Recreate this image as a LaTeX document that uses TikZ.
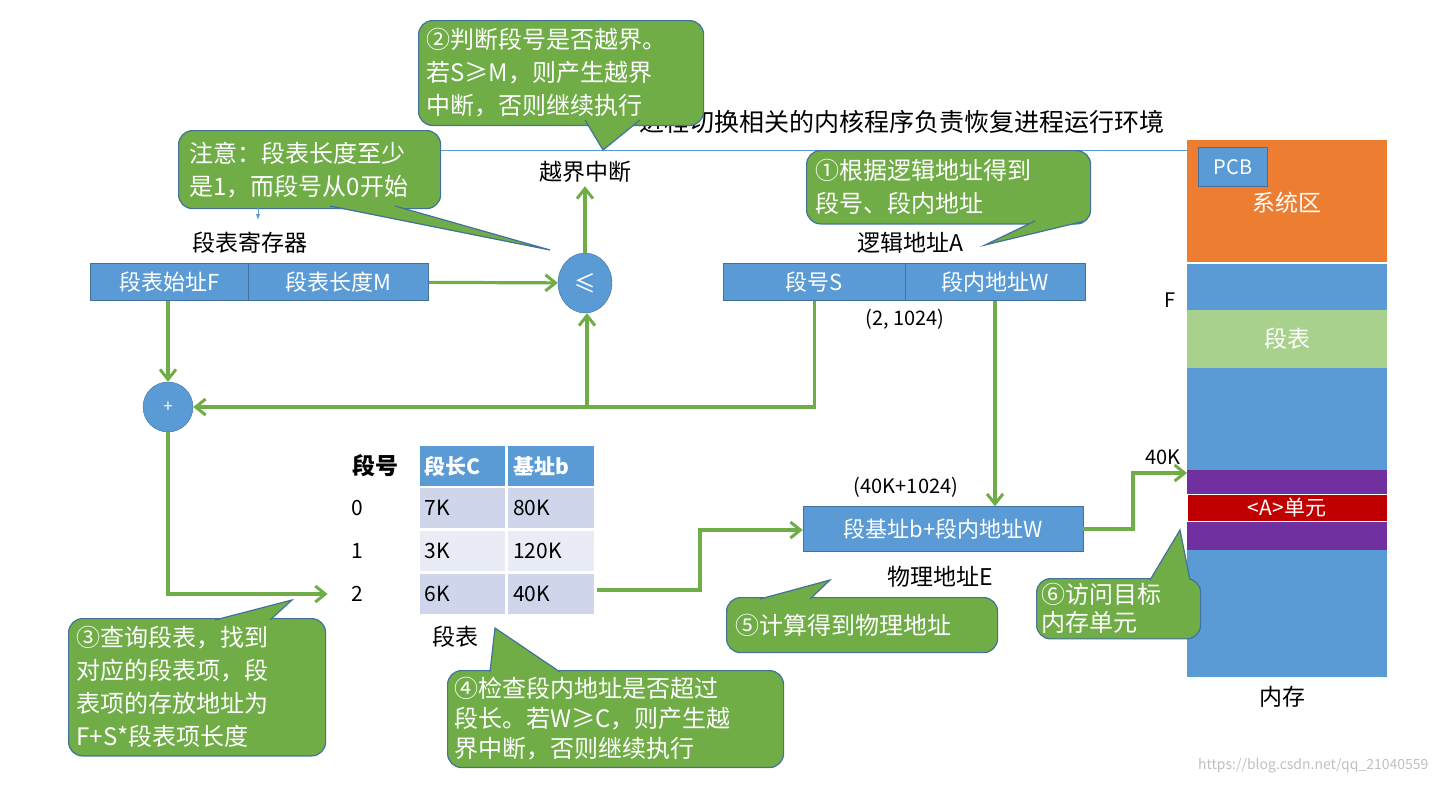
\documentclass[tikz,border=0pt]{standalone}
\usepackage{fontspec}
\setmainfont{Noto Sans CJK SC}
\usetikzlibrary{arrows.meta,calc,positioning}
\definecolor{boxblue}{HTML}{5B9BD5}
\definecolor{boxedge}{HTML}{41719C}
\definecolor{callgreen}{HTML}{70AD47}
\definecolor{arrgreen}{HTML}{70AD47}
\definecolor{sysorange}{HTML}{ED7D31}
\definecolor{tablegreen}{HTML}{A9D18E}
\definecolor{mempurple}{HTML}{7030A0}
\definecolor{memred}{HTML}{C00000}
\definecolor{cellA}{HTML}{CFD5EA}
\definecolor{cellB}{HTML}{E9EBF5}
\tikzset{
  reg/.style = {draw=boxedge, fill=boxblue, text=white, minimum height=37pt,
                inner sep=0pt, font=\fontsize{22}{26}\selectfont},
  op/.style = {draw=boxedge, fill=boxblue, text=white, circle, inner sep=0pt,
               font=\fontsize{17}{20}\selectfont},
  lab/.style = {font=\fontsize{23}{27}\selectfont, text=black},
  flow/.style = {draw=arrgreen, line width=3.2pt, -{Straight Barb[length=10pt,width=16pt,line width=3pt]}},
  note/.style = {draw=boxedge, fill=callgreen, text=white, rounded corners=14pt,
                 line width=1.2pt, align=left, anchor=north west, inner sep=11pt,
                 font=\fontsize{24}{33}\selectfont},
  cell/.style = {minimum width=87pt, minimum height=42pt, inner sep=0pt, draw=white,
                 line width=1.5pt, font=\fontsize{21}{24}\selectfont, anchor=west,
                 text width=75pt, align=left},
}
% callout pointer: base points and tip
\newcommand{\calltip}[3]{%
  \fill[callgreen] #1 -- #3 -- #2 -- cycle;
  \draw[boxedge, line width=1.2pt] #1 -- #3 -- #2;}
\begin{document}
\begin{tikzpicture}[x=1pt, y=-1pt]
  \useasboundingbox (0,0) rectangle (1439,785);

  % background text and PCB line
  \node[lab, font=\fontsize{25}{28}\selectfont, anchor=east] (restore) at (1168,122) {进程切换相关的内核程序负责恢复进程运行环境};
  \draw[boxblue, line width=1pt] (440,150) -- (1200,150);

  % memory
  \fill[boxblue] (1187,263) rectangle (1387,677);
  \fill[sysorange] (1187,140) rectangle (1387,263);
  \draw[white, line width=1.5pt] (1187,263) -- (1387,263);
  \fill[tablegreen] (1187,310) rectangle (1387,368);
  \fill[mempurple] (1187,470) rectangle (1387,550);
  \node[draw=white, fill=memred, text=white, minimum width=200pt, minimum height=27pt,
        inner sep=0pt, font=\fontsize{21}{24}\selectfont] (unit) at (1287,508) {<A>单元};
  \node[draw=boxedge, fill=boxblue, text=white, minimum width=69pt, minimum height=39pt,
        inner sep=0pt, font=\fontsize{20}{24}\selectfont] (pcb) at (1233,167) {PCB};
  \node[text=white, font=\fontsize{23}{26}\selectfont] (sys) at (1287,203) {系统区};
  \node[text=white, font=\fontsize{23}{26}\selectfont] (segtab) at (1287,339) {段表};
  \node[lab] (mem) at (1282,697) {内存};
  \node[lab, font=\fontsize{20}{24}\selectfont] (flab) at (1170,300) {F};
  \node[lab, font=\fontsize{20}{24}\selectfont] (klab) at (1163,457) {40K};
  \coordinate (k40) at (1187,473);

  % segment table register
  \node[reg, minimum width=158pt, anchor=west] (base) at (90,282) {段表始址F};
  \node[reg, minimum width=180pt, right=0pt of base] (len) {段表长度M};
  \node[lab] (reglab) at (250,243) {段表寄存器};

  % comparator and adder
  \node[op, minimum width=54pt, minimum height=60pt, xscale=0.9, font=\fontsize{24}{26}\selectfont] (cmp) at (585,283) {≤};
  \node[lab] (trap) at (585,172) {越界中断};
  \node[op, minimum size=50pt] (add) at (168,407) {+};

  % logical address
  \node[reg, minimum width=182pt, anchor=west] (segno) at (723,282) {段号S};
  \node[reg, minimum width=180pt, right=0pt of segno] (offset) {段内地址W};
  \node[lab] (lalab) at (910,243) {逻辑地址A};
  \node[lab, font=\fontsize{20}{24}\selectfont] (pair) at (905,319) {(2, 1024)};

  % segment table
  \node[lab, font=\fontsize{23}{26}\selectfont\bfseries] (hno) at (375,466) {段号};
  \node[cell, fill=boxblue, text=white, font=\fontsize{21}{24}\selectfont\bfseries] (hc) at (418,466) {段长C};
  \node[cell, fill=boxblue, text=white, font=\fontsize{21}{24}\selectfont\bfseries, right=0pt of hc] (hb) {基址b};
  \foreach \i/\c/\b/\f in {0/7K/80K/cellA, 1/3K/120K/cellB, 2/6K/40K/cellA} {
    \node[cell, fill=\f] (c\i) at (418,508+43*\i) {\c};
    \node[cell, fill=\f, right=0pt of c\i] (b\i) {\b};
    \node[lab, font=\fontsize{21}{24}\selectfont] (n\i) at (357,508+43*\i) {\i};
  }
  \node[lab] (tablab) at (455,637) {段表};

  % physical address
  \node[reg, minimum width=280pt, minimum height=45pt] (phys) at (943,529) {段基址b+段内地址W};
  \node[lab, font=\fontsize{20}{24}\selectfont] (sum) at (906,487) {(40K+1024)};
  \node[lab] (palab) at (940,577) {物理地址E};

  % flows
  \draw[flow] (len) -- (cmp);
  \draw[flow] (cmp) -- (trap);
  \draw[flow] (base.south -| add) -- (add);
  \draw[flow] (segno.south) |- (add);
  \draw[flow] (587,407) -- (cmp.south -| 587,0);
  \draw[flow] (add) |- ($(n2.west)+(-20,0)$);
  \draw[flow] ($(b2.east)+(2,-4)$) -| (700,530) -- (phys.west |- 0,530);
  \draw[flow] (offset.south -| 995,0) -- (phys.north -| 995,0);
  \draw[flow] (phys.east) -| (1133,473) -- (k40);

  % notes
  \node[note, text width=240pt, minimum height=78pt] (note0) at (178,130)
    {注意：段表长度至少\\是1，而段号从0开始};
  \calltip{(330,206)}{(395,206)}{(550,250)}
  \draw[boxblue, line width=1pt, -{Latex[length=6pt]}] (258,208) -- (258,220);
  \node[note, text width=269pt, minimum height=102pt, inner sep=8pt] (note2) at (418,20)
    {②判断段号是否越界。\\若S≥M，则产生越界\\中断，否则继续执行};
  \calltip{(585,120)}{(640,120)}{(603,150)}
  \node[note, text width=266pt, minimum height=73pt, inner sep=9pt] (note1) at (806,150)
    {①根据逻辑地址得到\\段号、段内地址};
  \calltip{(1035,221)}{(1085,221)}{(985,245)}
  \node[note, text width=241pt, minimum height=134pt, inner sep=8pt] (note3) at (68,618)
    {③查询段表，找到\\对应的段表项，段\\表项的存放地址为\\F+S*段表项长度};
  \calltip{(215,620)}{(270,620)}{(292,600)}
  \node[note, text width=322pt, minimum height=95pt, inner sep=7pt, font=\fontsize{24}{30}\selectfont] (note4) at (447,670)
    {④检查段内地址是否超过\\段长。若W≥C，则产生越\\界中断，否则继续执行};
  \calltip{(490,672)}{(560,672)}{(495,628)}
  \node[note, text width=253pt, minimum height=55pt, inner sep=9pt] (note5) at (726,597)
    {⑤计算得到物理地址};
  \calltip{(760,599)}{(810,599)}{(830,580)}
  \node[note, text width=154pt, minimum height=59pt, inner sep=5pt, font=\fontsize{24}{28}\selectfont] (note6) at (1036,578)
    {⑥访问目标\\内存单元};
  \calltip{(1150,580)}{(1190,580)}{(1180,530)}

  \node[text=black!25, font=\fontsize{14}{16}\selectfont, anchor=south east] (wm) at (1432,777)
    {https://blog.csdn.net/qq\_21040559};
\end{tikzpicture}
\end{document}
